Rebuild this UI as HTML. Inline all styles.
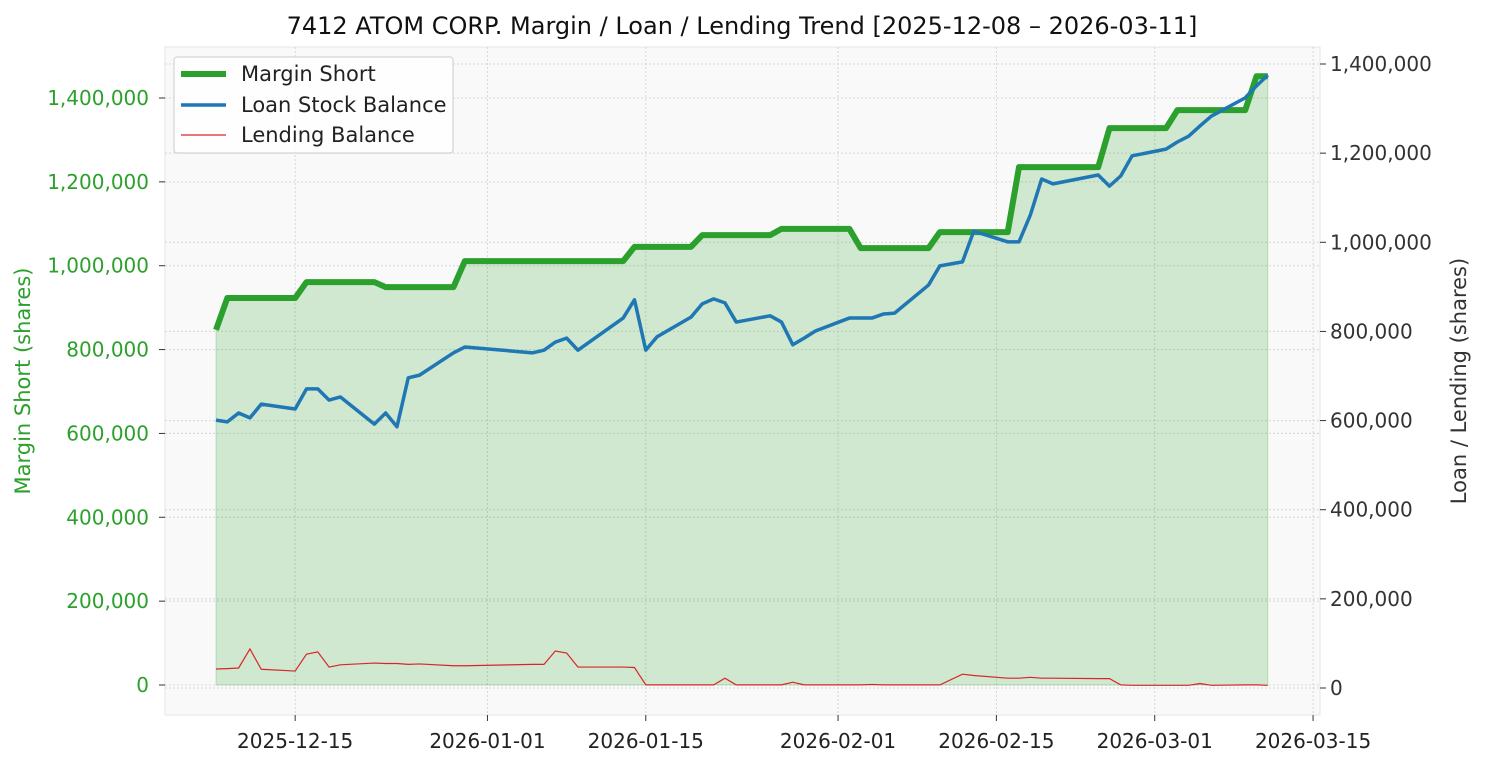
<!DOCTYPE html>
<html><head><meta charset="utf-8"><style>
body{margin:0;background:#fff;font-family:"Liberation Sans","DejaVu Sans",sans-serif}
svg text{font-family:"DejaVu Sans","Liberation Sans",sans-serif}
</style></head><body>
<svg id="c" width="1485" height="765" xmlns="http://www.w3.org/2000/svg"></svg>
<script>
const dates=["2025-12-08","2025-12-09","2025-12-10","2025-12-11","2025-12-12","2025-12-15","2025-12-16","2025-12-17","2025-12-18","2025-12-19","2025-12-22","2025-12-23","2025-12-24","2025-12-25","2025-12-26","2025-12-29","2025-12-30",
"2026-01-05","2026-01-06","2026-01-07","2026-01-08","2026-01-09","2026-01-13","2026-01-14","2026-01-15","2026-01-16","2026-01-19","2026-01-20","2026-01-21","2026-01-22","2026-01-23","2026-01-26","2026-01-27","2026-01-28","2026-01-29","2026-01-30",
"2026-02-02","2026-02-03","2026-02-04","2026-02-05","2026-02-06","2026-02-09","2026-02-10","2026-02-12","2026-02-13","2026-02-16","2026-02-17","2026-02-18","2026-02-19","2026-02-20","2026-02-24","2026-02-25","2026-02-26","2026-02-27",
"2026-03-02","2026-03-03","2026-03-04","2026-03-05","2026-03-06","2026-03-09","2026-03-10","2026-03-11"];
const marginShort=[847000,923000,923000,923000,923000,923000,961000,961000,961000,961000,961000,949000,949000,949000,949000,949000,1011000,
1011000,1011000,1011000,1011000,1011000,1011000,1045000,1045000,1045000,1045000,1073000,1073000,1073000,1073000,1073000,1088000,1088000,1088000,1088000,
1088000,1042000,1042000,1042000,1042000,1042000,1080000,1080000,1080000,1080000,1235000,1235000,1235000,1235000,1235000,1328000,1328000,1328000,
1328000,1371000,1371000,1371000,1371000,1371000,1452000,1452000];
const loanBalance=[601000,597000,617000,606000,637000,626000,671000,671000,646000,653000,592000,617000,586000,696000,702000,752000,765000,
752000,758000,776000,785000,758000,830000,871000,758000,788000,832000,862000,873000,864000,821000,835000,821000,770000,785000,801000,
830000,830000,830000,839000,841000,904000,947000,956000,1025000,1001000,1001000,1061000,1142000,1131000,1151000,1126000,1149000,1194000,
1209000,1225000,1238000,1261000,1283000,1324000,1351000,1375000];
const lendingBalance=[42600,43500,44900,87500,42000,38000,76000,81000,47000,52000,56000,55000,55000,53000,54000,50000,50000,
53000,53000,83000,78500,47000,47000,46000,7000,7000,7000,7000,7000,22000,7000,7000,7000,13000,7000,7000,
7000,7000,8000,7000,7000,7000,7000,31000,28000,22000,22000,24000,22000,22000,21000,21000,7000,6000,
6000,6000,6000,10000,6000,7000,7000,6000];
const leftTicks=[0,200000,400000,600000,800000,1000000,1200000,1400000];
const rightTicks=[0,200000,400000,600000,800000,1000000,1200000,1400000];
const xTicks=["2025-12-15","2026-01-01","2026-01-15","2026-02-01","2026-02-15","2026-03-01","2026-03-15"];

const svg=document.getElementById('c');const NS="http://www.w3.org/2000/svg";
const L=165,R=1320,T=47,B=715;
const d0=Date.UTC(2025,11,8);
function day(s){const p=s.split('-');return (Date.UTC(+p[0],p[1]-1,+p[2])-d0)/86400000;}
const x=s=>216+day(s)*11.31;
const yL=v=>685-v/2385;
const yR=v=>688-v/2243.6;
function el(t,a,p){const e=document.createElementNS(NS,t);for(const k in a)e.setAttribute(k,a[k]);(p||svg).appendChild(e);return e;}
const fmt=v=>v.toLocaleString('en-US');
let e;
e=el('rect',{x:L,y:T,width:R-L,height:B-T,fill:'#f9f9f9',stroke:'#e6e6e6'});

const g=el('g',{stroke:'#d6d6d6','stroke-width':1,'stroke-dasharray':'2,2'});

xTicks.forEach(t=>el('line',{x1:x(t),x2:x(t),y1:T,y2:B},g));
leftTicks.forEach(t=>el('line',{x1:L,x2:R,y1:yL(t),y2:yL(t)},g));
rightTicks.forEach(t=>el('line',{x1:L,x2:R,y1:yR(t),y2:yR(t)},g));
let pts=dates.map((d,i)=>x(d)+','+yL(marginShort[i]));
e=el('polygon',{points:pts.join(' ')+' '+x(dates[dates.length-1])+','+yL(0)+' '+x(dates[0])+','+yL(0),fill:'#2ca02c','fill-opacity':0.2,stroke:'#2ca02c','stroke-opacity':0.25});

e=el('polyline',{points:pts.join(' '),fill:'none',stroke:'#2ca02c','stroke-width':6,'stroke-linejoin':'round'});

e=el('polyline',{points:dates.map((d,i)=>x(d)+','+yR(loanBalance[i])).join(' '),fill:'none',stroke:'#1f77b4','stroke-width':3.5,'stroke-linejoin':'round'});

e=el('polyline',{points:dates.map((d,i)=>x(d)+','+yR(lendingBalance[i])).join(' '),fill:'none',stroke:'#d62728','stroke-width':1.2});

leftTicks.forEach(t=>{el('line',{x1:L-6,x2:L,y1:yL(t),y2:yL(t),stroke:'#333'});
 e=el('text',{x:L-16,y:yL(t)+7,'text-anchor':'end','font-size':20,fill:'#2ca02c'});e.textContent=fmt(t);
 });
rightTicks.forEach(t=>{el('line',{x1:R,x2:R+6,y1:yR(t),y2:yR(t),stroke:'#333'});
 e=el('text',{x:R+10,y:yR(t)+7,'font-size':20,fill:'#333'});e.textContent=fmt(t);
 });
xTicks.forEach(t=>{el('line',{x1:x(t),x2:x(t),y1:B,y2:B+6,stroke:'#333'});
 e=el('text',{x:x(t),y:748,'text-anchor':'middle','font-size':20,fill:'#222'});e.textContent=t;
 });
e=el('text',{x:742,y:34,'text-anchor':'middle','font-size':24,fill:'#111'});e.textContent='7412 ATOM CORP. Margin / Loan / Lending Trend [2025-12-08 – 2026-03-11]';

e=el('text',{x:30,y:381,'text-anchor':'middle','font-size':21,fill:'#2ca02c',transform:'rotate(-90 30 381)'});e.textContent='Margin Short (shares)';

e=el('text',{x:1466,y:381,'text-anchor':'middle','font-size':21,fill:'#333',transform:'rotate(-90 1466 381)'});e.textContent='Loan / Lending (shares)';

const lg=el('g',{});
el('rect',{x:174,y:57,width:279,height:96,rx:3,fill:'#fff','fill-opacity':0.85,stroke:'#ccc'},lg);
[['Margin Short','#2ca02c',6,74],['Loan Stock Balance','#1f77b4',3.5,105],['Lending Balance','#d62728',1.2,135]].forEach(a=>{
 el('line',{x1:181,x2:226,y1:a[3],y2:a[3],stroke:a[1],'stroke-width':a[2]},lg);
 e=el('text',{x:241,y:a[3]+7,'font-size':21,fill:'#222'},lg);e.textContent=a[0];
 });
</script></body></html>
